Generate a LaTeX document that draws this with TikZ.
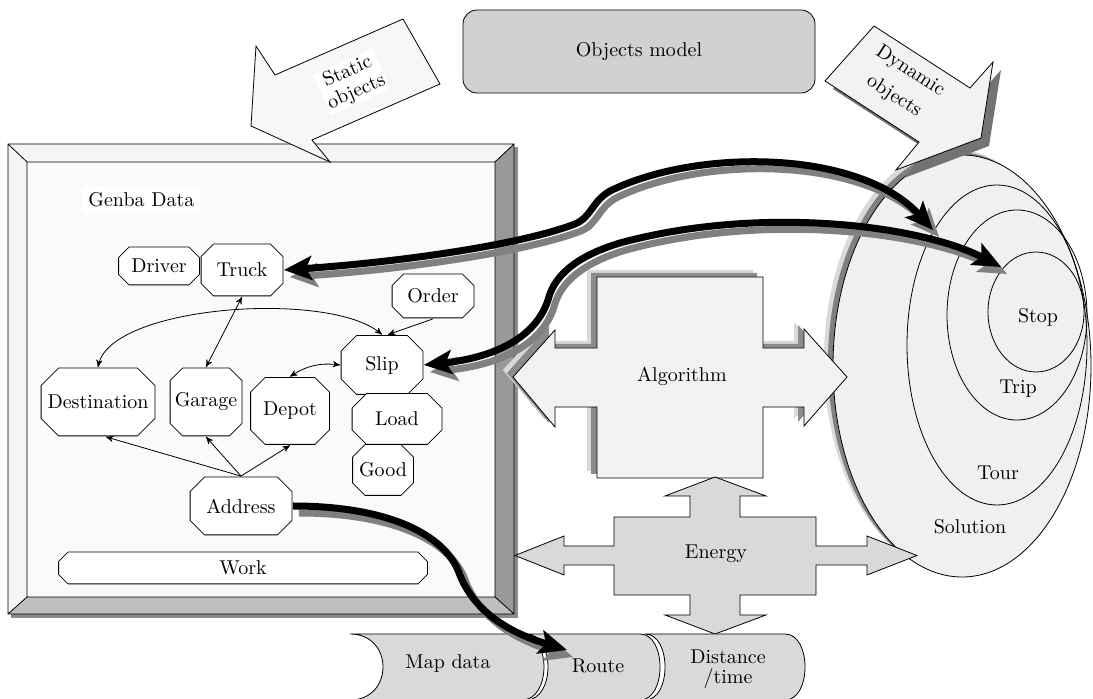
\documentclass[tikz,border=0pt]{standalone}
\usepackage{tikz}
\usetikzlibrary{arrows,arrows.meta}

\begin{document}
\begin{tikzpicture}[x=0.5pt,y=-0.5pt,>=stealth',
  octa node/.style={inner sep=0pt,path picture={
      \draw[fill=white]
        ([shift={(#1,-0.3pt)}]path picture bounding box.north west)
        -- ([shift={(-#1,-0.3pt)}]path picture bounding box.north east)
        -- ([shift={(-0.3pt,-#1)}]path picture bounding box.north east)
        -- ([shift={(-0.3pt,#1)}]path picture bounding box.south east)
        -- ([shift={(-#1,0.3pt)}]path picture bounding box.south east)
        -- ([shift={(#1,0.3pt)}]path picture bounding box.south west)
        -- ([shift={(0.3pt,#1)}]path picture bounding box.south west)
        -- ([shift={(0.3pt,-#1)}]path picture bounding box.north west) -- cycle;}},
  octa node/.default=6.5pt,
  Big/.tip={Stealth[length=14pt,width=12pt,inset=3pt]},
  thick link/.style={line width=3.5pt},
  link shadow/.style={draw=black!50,transform canvas={xshift=3pt,yshift=-3.5pt}},
  link body/.style={draw=black},
  drum/.style={draw,fill=black!15}]
  \path[use as bounding box,fill=white] (0,0) rectangle (1093,699);

  % objects model
  \node[draw,fill=black!18,rounded corners=7pt,minimum width=176pt,
    minimum height=41.5pt] (model) at (639,51.5) {Objects model};

  % Genba Data frame
  \fill[black!45] (11,147) rectangle (518,618);
  \fill[black!4] (8,144) -- (514,144) -- (495,162) -- (27,162) -- (27,597) -- (8,614) -- cycle;
  \fill[black!40] (514,144) -- (514,614) -- (495,597) -- (495,162) -- cycle;
  \fill[black!25] (8,614) -- (514,614) -- (495,597) -- (27,597) -- cycle;
  \fill[black!2] (27,162) rectangle (495,597);
  \draw (8,144) rectangle (514,614) (27,162) rectangle (495,597)
    (8,144) -- (27,162) (514,144) -- (495,162) (8,614) -- (27,597) (514,614) -- (495,597);

  % static objects
  \draw[fill=black!3] (251,126) -- (256,46) -- (275,75) -- (403,19) -- (440,84)
    -- (312,140) -- (330,162) -- cycle;
  \node[rotate=24,align=center,fill=white,inner sep=1pt] (staticlbl) at (352,82) {Static\\[-1pt]objects};

  % solution ellipses
  \fill[black!15] (953,360) ellipse [x radius=64.5pt,y radius=105.5pt];
  \fill[black!50] (957,363) ellipse [x radius=64.5pt,y radius=105.5pt];
  \draw[fill=black!6] (962,366) ellipse [x radius=64.5pt,y radius=105.5pt];
  \draw (997,345) ellipse [x radius=45pt,y radius=80pt];
  \draw (1017,315) ellipse [x radius=35pt,y radius=52.5pt];
  \draw (1036,312) ellipse [x radius=24pt,y radius=30pt];
  \node (stoplbl) at (1038,317) {Stop};
  \node (triplbl) at (1018,389) {Trip};
  \node (tourlbl) at (998,473) {Tour};
  \node (solutionlbl) at (970,527) {Solution};
  \coordinate (tourin) at (933,230);
  \coordinate (stopin) at (1001,267);

  % dynamic objects
  \fill[black!55,shift={(8,8)}] (874,26) -- (970,88) -- (993,62) -- (981,138)
    -- (896,170) -- (919,142) -- (825,81) -- cycle;
  \draw[fill=black!5] (874,26) -- (970,88) -- (993,62) -- (981,138)
    -- (896,170) -- (919,142) -- (825,81) -- cycle;
  \node[rotate=-33,align=center] (dynamiclbl) at (902,84) {Dynamic\\[3pt]objects};

  % algorithm
  \foreach \dx/\dy/\c in {-10/-7/15,-6/-4/45}
    \fill[black!\c,shift={(\dx,\dy)}] (597,277) -- (763,277) -- (763,348) -- (804,348)
      -- (804,329) -- (847,377) -- (804,426) -- (804,407) -- (763,407) -- (763,478)
      -- (597,478) -- (597,407) -- (555,407) -- (555,427) -- (513,377) -- (555,330)
      -- (555,348) -- (597,348) -- cycle;
  \draw[fill=black!5] (597,277) -- (763,277) -- (763,348) -- (804,348)
    -- (804,329) -- (847,377) -- (804,426) -- (804,407) -- (763,407) -- (763,478)
    -- (597,478) -- (597,407) -- (555,407) -- (555,427) -- (513,377) -- (555,330)
    -- (555,348) -- (597,348) -- cycle;
  \node (algorithm) at (682,376) {Algorithm};

  % energy
  \draw[fill=black!15] (715,477) -- (766,496) -- (740,496) -- (740,517) -- (816,517)
    -- (816,546) -- (867,546) -- (867,536) -- (917,555.5) -- (867,575) -- (867,565)
    -- (816,565) -- (816,595) -- (740,595) -- (740,615) -- (766,615) -- (715,634)
    -- (665,615) -- (690,615) -- (690,595) -- (614,595) -- (614,565) -- (564,565)
    -- (564,575) -- (515,555.5) -- (564,536) -- (564,546) -- (614,546) -- (614,517)
    -- (690,517) -- (690,496) -- (665,496) -- cycle;
  \node (energy) at (716,554) {Energy};

  % map data, route, distance
  \draw[drum] (350,634) -- (522,634) .. controls (551.3,634) and (551.3,700) .. (522,700)
    -- (350,700) .. controls (394,700) and (394,634) .. (350,634);
  \draw[drum] (526,634) -- (640,634) .. controls (666.7,634) and (666.7,700) .. (640,700)
    -- (526,700) .. controls (555.3,700) and (555.3,634) .. (526,634);
  \draw[drum] (645,634) -- (785,634) .. controls (811.7,634) and (811.7,700) .. (785,700)
    -- (645,700) .. controls (671.7,700) and (671.7,634) .. (645,634);
  \node (mapdata) at (448,664) {Map data};
  \node (route) at (598,666) {Route};
  \node[align=center] (distance) at (728,669) {Distance\\[-2pt]/time};
  \coordinate (routein) at (567,650);

  % genba data
  \node[anchor=west,fill=white,inner sep=3pt] (genba) at (82,200) {Genba Data};
  \node[octa node=5.5pt,minimum width=41pt,minimum height=19.5pt] (driver) at (159,266) {Driver};
  \node[octa node,minimum width=41.5pt,minimum height=26.5pt] (truck) at (242,270) {Truck};
  \node[octa node=6pt,minimum width=41.5pt,minimum height=22.5pt] (order) at (433,296) {Order};
  \node[octa node=8pt,minimum width=41.5pt,minimum height=30pt] (slip) at (382,365) {Slip};
  \node[octa node=9pt,minimum width=57.5pt,minimum height=34.5pt] (destination) at (98,402) {Destination};
  \node[octa node,minimum width=36.5pt,minimum height=34.5pt] (garage) at (206,402) {Garage};
  \node[octa node=7.5pt,minimum width=40pt,minimum height=34pt] (depot) at (290,411) {Depot};
  \node[octa node=7.5pt,minimum width=45.5pt,minimum height=26pt] (load) at (397,419) {Load};
  \node[octa node,minimum width=31pt,minimum height=26pt] (good) at (383,470) {Good};
  \node[octa node=7.5pt,minimum width=51.5pt,minimum height=29.5pt] (address) at (241,506) {Address};
  \node[octa node=5pt,minimum width=185pt,minimum height=16.5pt] (work) at (243,568) {Work};

  \path[->]
    (truck.south) edge[<->] (garage.north)
    (order.south) edge ([xshift=3pt]slip.north)
    (depot.north) edge[<->,bend left=20] (slip.west)
    (address.north) edge ([xshift=4pt]destination.south)
    (address.north) edge (garage.south)
    (address.north) edge (depot.south);
  \draw[<->] (destination.north) .. controls (110,305) and (330,290) .. (slip.north);

  % thick links
  \foreach \s in {link shadow,link body}{
    \draw[thick link,Big-Big,\s] (truck.east) .. controls (400,262) and (520,245) .. (575,224)
      .. controls (592,217) and (592,200) .. (612,190)
      .. controls (700,148) and (860,150) .. (tourin);
    \draw[thick link,Big-Big,\s] (slip.east) .. controls (490,358) and (535,340) .. (548,300)
      .. controls (553,280) and (570,258) .. (620,243)
      .. controls (760,205) and (920,225) .. (stopin);
    \draw[thick link,-Big,\s] (address.east) .. controls (380,506) and (440,530) .. (458,570)
      .. controls (470,605) and (500,630) .. (routein);
  }
\end{tikzpicture}
\end{document}
